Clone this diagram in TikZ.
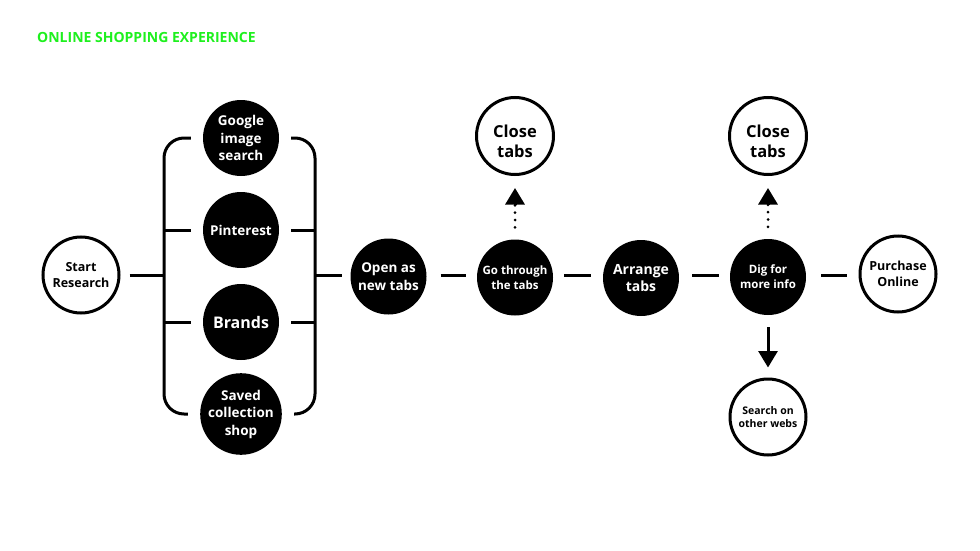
\documentclass[tikz,border=0pt]{standalone}
\usepackage{fontspec}
\setmainfont{Open Sans}
\usetikzlibrary{arrows.meta}
\definecolor{titlegreen}{RGB}{30,240,30}
\tikzset{
  blk/.style={circle, fill=black, text=white, minimum size=76pt, inner sep=0pt, align=center, font=\bfseries},
  wht/.style={circle, draw=black, line width=3pt, fill=white, text=black, minimum size=76pt, inner sep=0pt, align=center, font=\bfseries},
  conn/.style={line width=3pt},
  dotline/.style={line width=3pt, dash pattern=on 0pt off 7.3pt, line cap=round},
  tipup/.style={line width=3pt, -{Triangle[width=19pt,length=16.5pt]}},
  closetxt/.style={label={[align=center, font=\bfseries\fontsize{16.5}{20}\selectfont, yshift=-5pt]center:Close\\tabs}},
}
\begin{document}
\begin{tikzpicture}[x=1pt,y=-1pt]
\useasboundingbox (0,0) rectangle (980,551);
\fill[white] (0,0) rectangle (980,551);
\node[anchor=west, text=titlegreen, font=\bfseries\fontsize{14}{16}\selectfont, inner sep=0pt] (title) at (37,37) {ONLINE SHOPPING EXPERIENCE};

\node[wht, font=\bfseries\fontsize{12.5}{16}\selectfont] (start) at (81,275) {Start\\Research};

\node[blk, font=\bfseries\fontsize{13.5}{17.5}\selectfont] (google) at (241,138) {Google\\image\\search};
\node[blk, font=\bfseries\fontsize{13.5}{16}\selectfont] (pin) at (241,230) {Pinterest};
\node[blk, font=\bfseries\fontsize{16}{18}\selectfont] (brands) at (241,322) {Brands};
\node[blk, font=\bfseries\fontsize{13.5}{17.5}\selectfont] (saved) at (241,414) {Saved\\collection\\shop};

\node[blk, font=\bfseries\fontsize{13.5}{18}\selectfont] (open) at (388.5,276.5) {Open as\\new tabs};
\node[blk, font=\bfseries\fontsize{11.5}{15}\selectfont] (go) at (515,277.5) {Go through\\the tabs};
\node[blk, font=\bfseries\fontsize{14}{17}\selectfont] (arrange) at (641,278) {Arrange\\tabs};
\node[blk, font=\bfseries\fontsize{11.5}{15}\selectfont] (dig) at (768,277) {Dig for\\more info};
\node[wht, font=\bfseries\fontsize{12.5}{16.5}\selectfont] (buy) at (898,274) {Purchase\\Online};

\node[wht, minimum size=77pt, closetxt] (close1) at (515,136) {};
\node[wht, minimum size=77pt, closetxt] (close2) at (768,136) {};
\node[wht, font=\bfseries\fontsize{10.5}{13.5}\selectfont] (search) at (768,417) {Search on\\other webs};

% bracket junctions
\coordinate (lb) at (164,275.5);
\coordinate (rb) at (315,275.5);

% start to bracket
\draw[conn] ([xshift=9pt]start.east |- lb) -- (lb);
% left bracket
\draw[conn, rounded corners=20pt] ([xshift=-12pt]google.west) -- (google.west -| lb) -- (saved.west -| lb) -- ([xshift=-12pt]saved.west);
\draw[conn] (pin.west -| lb) -- ([xshift=-12pt]pin.west);
\draw[conn] (brands.west -| lb) -- ([xshift=-12pt]brands.west);
% right bracket
\draw[conn, rounded corners=20pt] ([xshift=12pt]google.east) -- (google.east -| rb) -- (saved.east -| rb) -- ([xshift=12pt]saved.east);
\draw[conn] ([xshift=12pt]pin.east) -- (pin.east -| rb);
\draw[conn] ([xshift=12pt]brands.east) -- (brands.east -| rb);
\draw[conn] (rb) -- ([xshift=-8pt]open.west |- rb);

% main chain
\draw[conn] ([xshift=14pt]open.east |- rb) -- ([xshift=-11pt]go.west |- rb);
\draw[conn] ([xshift=11pt]go.east |- rb) -- ([xshift=-12pt]arrange.west |- rb);
\draw[conn] ([xshift=13pt]arrange.east |- rb) -- ([xshift=-11pt]dig.west |- rb);
\draw[conn] ([xshift=15pt]dig.east |- rb) -- ([xshift=-12pt]buy.west |- rb);

% dotted arrows up
\draw[dotline] ([yshift=12pt]go.north) -- ([yshift=34pt]go.north);
\draw[tipup] ([yshift=-28.5pt]close1.south) -- ([yshift=-12pt]close1.south);
\draw[dotline] ([yshift=12pt]dig.north) -- ([yshift=34pt]dig.north);
\draw[tipup] ([yshift=-28.5pt]close2.south) -- ([yshift=-12pt]close2.south);

% solid arrow down
\draw[tipup] ([yshift=-12pt]dig.south) -- ([yshift=10pt]search.north);
\end{tikzpicture}
\end{document}
